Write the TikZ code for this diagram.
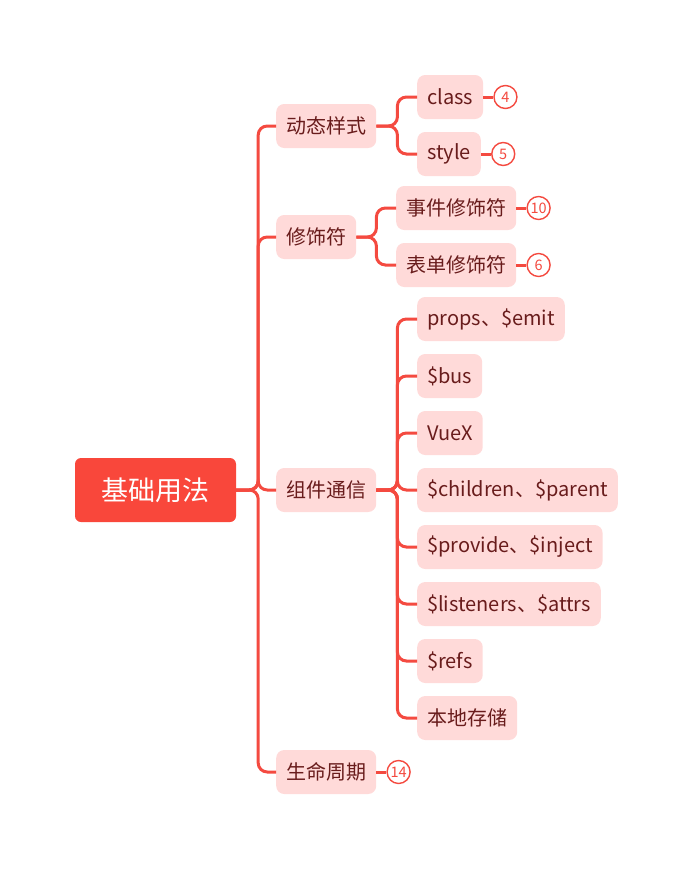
\documentclass[tikz,border=0pt]{standalone}
\usepackage{fontspec}
\setmainfont{Noto Sans CJK SC}
\usetikzlibrary{positioning}

\definecolor{rootred}{RGB}{249,71,59}
\definecolor{linered}{RGB}{244,74,64}
\definecolor{topicpink}{RGB}{255,218,217}
\definecolor{topictext}{RGB}{105,28,28}

\tikzset{
  root/.style={fill=rootred, rounded corners=6pt, text=white, font=\fontsize{27}{32}\selectfont, minimum height=64pt, minimum width=161pt},
  topic/.style={fill=topicpink, rounded corners=8pt, text=topictext, font=\fontsize{20}{24}\selectfont, minimum height=44pt, inner xsep=10pt, anchor=west},
  badge/.style={circle, draw=linered, line width=1.4pt, fill=white, text=linered, minimum size=23pt, inner sep=0pt, font=\fontsize{14.5}{16}\selectfont},
  branch/.style={draw=linered, line width=3pt, rounded corners=9pt},
  tick/.style={draw=linered, line width=3pt},
}

\begin{document}
\begin{tikzpicture}[x=1pt,y=-1pt]
\useasboundingbox (0,0) rectangle (694,870);

%%% 中心
\node[root] (base) at (155.5,490) {基础用法};

%%% 一级
\node[topic] (dyn) at (276,126) {动态样式};
\node[topic] (mod) at (276,237) {修饰符};
\node[topic] (com) at (276,490) {组件通信};
\node[topic] (life) at (276,772) {生命周期};

%%% 二级
% 动态样式
\node[topic] (cls) at (417,97) {class};
\node[topic] (sty) at (417,154) {style};
% 修饰符
\node[topic] (evt) at (396,208) {事件修饰符};
\node[topic] (frm) at (396,265) {表单修饰符};
% 组件通信
\node[topic] (props) at (417,319) {props、\$emit};
\node[topic] (bus) at (417,376) {\$bus};
\node[topic] (vuex) at (417,433) {VueX};
\node[topic] (child) at (417,490) {\$children、\$parent};
\node[topic] (prov) at (417,547) {\$provide、\$inject};
\node[topic] (lis) at (417,604) {\$listeners、\$attrs};
\node[topic] (refs) at (417,661) {\$refs};
\node[topic] (store) at (417,718) {本地存储};

%% 连线
\foreach \n in {dyn,mod,com,life}
  \draw[branch] (base.east) -- ++(22,0) |- (\n.west);
\foreach \n in {cls,sty}
  \draw[branch] (dyn.east) -- ++(21,0) |- (\n.west);
\foreach \n in {evt,frm}
  \draw[branch] (mod.east) -- ++(20,0) |- (\n.west);
\foreach \n in {props,bus,vuex,child,prov,lis,refs,store}
  \draw[branch] (com.east) -- ++(21,0) |- (\n.west);

%% 数字
\node[badge, right=10pt of cls] (n4) {4};
\node[badge, right=10pt of sty] (n5) {5};
\node[badge, right=10pt of evt] (n10) {10};
\node[badge, right=10pt of frm] (n6) {6};
\node[badge, right=10pt of life] (n14) {14};
\draw[tick] (cls) -- (n4);
\draw[tick] (sty) -- (n5);
\draw[tick] (evt) -- (n10);
\draw[tick] (frm) -- (n6);
\draw[tick] (life) -- (n14);

\end{tikzpicture}
\end{document}
